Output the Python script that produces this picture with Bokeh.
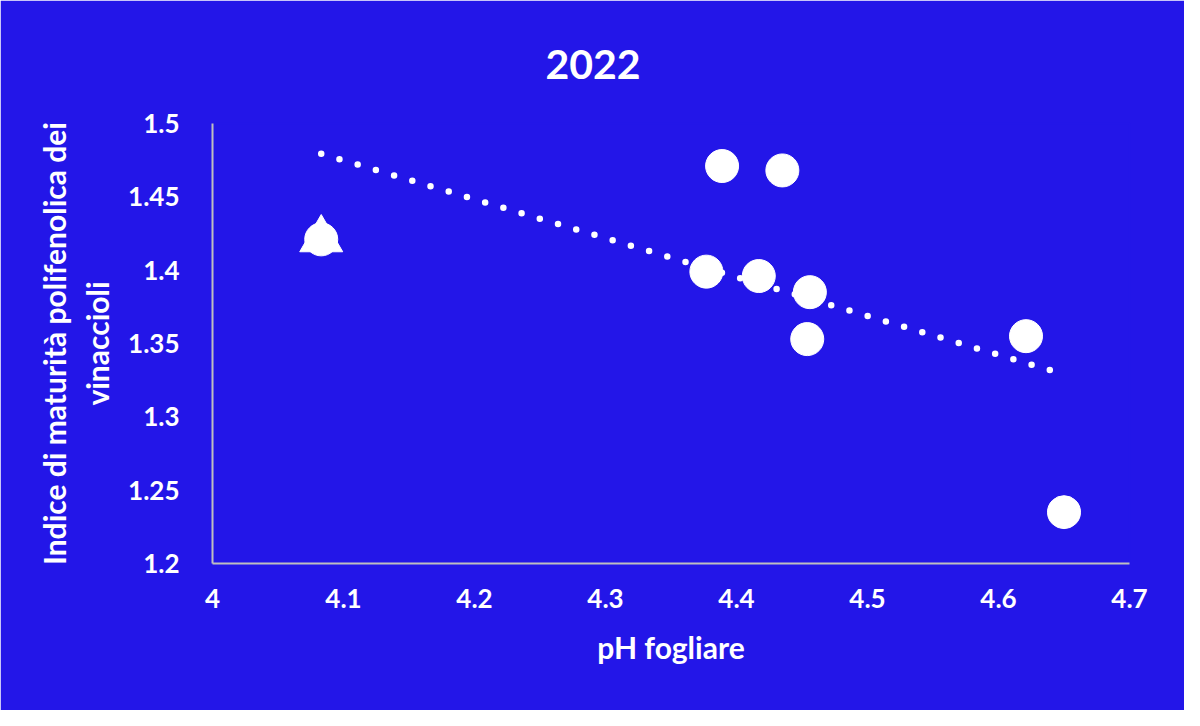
import numpy as np
from bokeh.plotting import figure
from bokeh.models import FixedTicker, Range1d
from bokeh.embed import file_html
from bokeh.resources import INLINE

# ---- data ----
ph = [4.083, 4.389, 4.435, 4.377, 4.417, 4.456, 4.454, 4.621, 4.650]
indice = [1.421, 1.471, 1.468, 1.399, 1.396, 1.385, 1.353, 1.355, 1.235]
tri_ph = [4.083]
tri_indice = [1.421]

x_ticks = [4.0, 4.1, 4.2, 4.3, 4.4, 4.5, 4.6, 4.7]
x_labels = ["4", "4.1", "4.2", "4.3", "4.4", "4.5", "4.6", "4.7"]
y_ticks = [1.2, 1.25, 1.3, 1.35, 1.4, 1.45, 1.5]
y_labels = ["1.2", "1.25", "1.3", "1.35", "1.4", "1.45", "1.5"]

title_text = "2022"
x_title = "pH fogliare"
y_title = "Indice di maturità polifenolica dei\nvinaccioli"

BG = "#2316E8"
FONT = "Lato"

p = figure(width=1184, height=710, output_backend="svg", toolbar_location=None,
           x_range=Range1d(4.0, 4.7), y_range=Range1d(1.2, 1.5),
           min_border_left=212, min_border_right=55, min_border_top=123, min_border_bottom=147)
p.background_fill_color = BG
p.border_fill_color = BG
p.outline_line_color = BG
p.outline_line_width = 2
p.xgrid.visible = False
p.ygrid.visible = False

p.title.text = title_text
p.title.align = "left"
p.title.offset = 333
p.title.text_color = "white"
p.title.text_font = FONT
p.title.text_font_style = "bold"
p.title.text_font_size = "41px"
p.title.standoff = 90

for ax, ticks, labels in ((p.xaxis, x_ticks, x_labels), (p.yaxis, y_ticks, y_labels)):
    ax.ticker = FixedTicker(ticks=ticks)
    ax.major_label_overrides = {t: l for t, l in zip(ticks, labels)}
    ax.major_tick_line_color = None
    ax.minor_tick_line_color = None
    ax.axis_line_color = "#BFBFBF"
    ax.axis_line_width = 2
    ax.major_label_text_color = "white"
    ax.major_label_text_font = FONT
    ax.major_label_text_font_style = "bold"
    ax.major_label_text_font_size = "26px"
    ax.axis_label_text_color = "white"
    ax.axis_label_text_font = FONT
    ax.axis_label_text_font_style = "bold"
    ax.axis_label_text_font_size = "30px"

p.xaxis.axis_label = x_title
p.yaxis.axis_label = y_title
p.xaxis.major_label_standoff = 19
p.yaxis.major_label_standoff = 27
p.xaxis.axis_label_standoff = 18
p.yaxis.axis_label_standoff = 10

# linear trendline over the circle series
slope, intercept = np.polyfit(ph, indice, 1)
tx = [min(ph), max(ph)]
ty = [slope * v + intercept for v in tx]
p.line(tx, ty, line_color="white", line_width=6.5, line_dash="0 19", line_cap="round")

p.scatter(tri_ph, tri_indice, marker="triangle", size=43, fill_color="white", line_color="white")
p.scatter(ph, indice, marker="circle", size=33, fill_color="white", line_color="white")

open("out.html", "w").write(file_html(p, INLINE))
